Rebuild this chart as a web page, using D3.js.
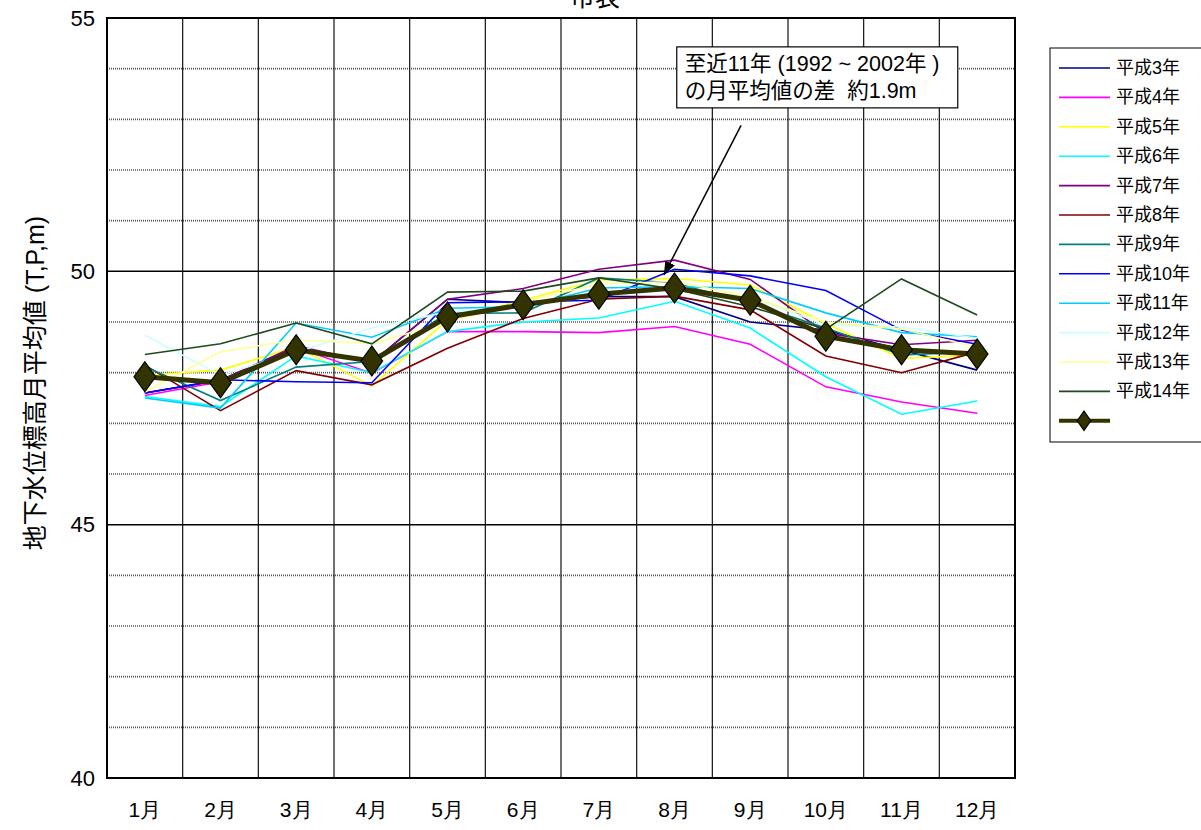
<!DOCTYPE html>
<html><head><meta charset="utf-8">
<script src="https://cdn.jsdelivr.net/npm/d3@7/dist/d3.min.js"></script>
<style>body{margin:0;background:#fff}svg{display:block;font-family:"Liberation Sans",Arial,"Noto Sans CJK JP",sans-serif}</style>
</head><body><svg id="c" width="1201" height="830"></svg>
<script>
const months = ["1月","2月","3月","4月","5月","6月","7月","8月","9月","10月","11月","12月"];
const seriesNames = ["平成3年","平成4年","平成5年","平成6年","平成7年","平成8年","平成9年","平成10年","平成11年","平成12年","平成13年","平成14年"];
const seriesColors = ["#000080","#ff00ff","#ffff00","#00ffff","#800080","#800000","#008080","#0000ff","#00ccff","#ccffff","#ffff99","#1f4a1f"];
const h3  = [47.60,47.85,48.50,48.20,49.45,49.38,49.50,49.50,49.00,48.84,48.45,48.05];
const h4  = [47.55,47.82,48.49,47.99,48.81,48.81,48.79,48.91,48.56,47.72,47.42,47.20];
const h5  = [47.95,48.05,48.51,47.74,49.04,49.43,49.83,49.86,49.73,48.97,48.28,48.35];
const h6  = [47.53,47.33,48.33,48.00,48.81,49.00,49.08,49.41,48.88,47.92,47.18,47.44];
const h7  = [47.60,47.85,48.53,48.20,49.45,49.66,50.04,50.22,49.84,48.78,48.55,48.64];
const h8  = [48.15,47.25,48.04,47.76,48.48,49.07,49.45,49.51,49.24,48.33,48.00,48.41];
const h9  = [48.12,47.45,48.11,48.22,49.17,49.18,49.87,49.77,49.37,48.88,48.35,48.41];
const h10 = [47.60,47.86,47.82,47.80,49.38,49.40,49.43,50.04,49.91,49.62,48.84,48.56];
const h11 = [47.50,47.30,48.98,48.70,49.27,49.30,49.67,49.70,49.66,49.18,48.79,48.71];
const h12 = [48.74,47.95,48.40,48.88,49.20,49.30,49.60,49.65,49.50,48.94,48.90,48.68];
const h13 = [47.62,48.41,48.65,48.57,49.00,49.40,49.75,49.80,49.50,49.00,48.86,48.50];
const h14 = [48.36,48.57,48.98,48.57,49.59,49.61,49.87,49.65,49.30,48.86,49.85,49.14];
const average = [47.92,47.80,48.45,48.23,49.10,49.34,49.55,49.67,49.43,48.72,48.45,48.37];
const yTicks = [40,45,50,55];
const minorTicks = [41,42,43,44,46,47,48,49,51,52,53,54];
const noteLines = ["至近11年 (1992 ~ 2002年 )","の月平均値の差  約1.9m"];
const titleText = "市表";
const yTitle = "地下水位標高月平均値 (T,P,m)";

const allSeries = [h3,h4,h5,h6,h7,h8,h9,h10,h11,h12,h13,h14];
const svg = d3.select("#c");
const L=107,R=1015,T=18,B=778;
const x = d3.scaleBand().domain(months).range([L,R]);
const y = d3.scaleLinear().domain([40,55]).range([B,T]);
const cx = m => x(m)+x.bandwidth()/2;

// title (cut off at top, as in the reference)
svg.append("text").attr("x",595).attr("y",6).attr("text-anchor","middle").attr("font-size",25).text(titleText);

// minor gridlines
svg.append("g").selectAll("line").data(minorTicks).join("line")
  .attr("x1",L).attr("x2",R).attr("y1",d=>y(d)).attr("y2",d=>y(d))
  .attr("stroke","#555").attr("stroke-width",1.6).attr("stroke-dasharray","1,1");
// major gridlines
svg.append("g").selectAll("line").data(yTicks).join("line")
  .attr("x1",L).attr("x2",R).attr("y1",d=>y(d)).attr("y2",d=>y(d))
  .attr("stroke","#000").attr("stroke-width",1.5);
// vertical gridlines
svg.append("g").selectAll("line").data(months.slice(1)).join("line")
  .attr("x1",d=>x(d)).attr("x2",d=>x(d)).attr("y1",T).attr("y2",B)
  .attr("stroke","#111").attr("stroke-width",1.2);
// frame
svg.append("rect").attr("x",L).attr("y",T).attr("width",R-L).attr("height",B-T)
  .attr("fill","none").attr("stroke","#000").attr("stroke-width",2);

// axes labels
const yAxis = d3.axisLeft(y).tickValues(yTicks).tickSize(0).tickPadding(12);
const gy = svg.append("g").attr("transform",`translate(${L},0)`).call(yAxis);
gy.select(".domain").remove();
gy.selectAll("text").attr("font-size",22).attr("font-family","Liberation Sans, Arial").attr("fill","#000");
const xAxis = d3.axisBottom(x).tickSize(0).tickPadding(24);
const gx = svg.append("g").attr("transform",`translate(0,${B})`).call(xAxis);
gx.select(".domain").remove();
gx.selectAll("text").attr("font-size",21).attr("fill","#000");

svg.append("text").attr("transform","translate(44,383) rotate(-90)").attr("text-anchor","middle")
  .attr("font-size",25).attr("xml:space","preserve").text(yTitle);

// series lines
const line = d3.line().x((d,i)=>cx(months[i])).y(d=>y(d));
allSeries.forEach((s,i)=>{
  svg.append("path").datum(s).attr("d",line).attr("fill","none")
    .attr("stroke",seriesColors[i]).attr("stroke-width",1.6);
});
// average
svg.append("path").datum(average).attr("d",line).attr("fill","none")
  .attr("stroke","#333300").attr("stroke-width",5).attr("stroke-linejoin","round");
const diamond = d3.symbol().type(d3.symbolDiamond).size(260);
svg.append("g").selectAll("path").data(average).join("path")
  .attr("transform",(d,i)=>`translate(${cx(months[i])},${y(d)}) scale(1.25,1)`)
  .attr("d",diamond).attr("fill","#333300").attr("stroke","#000").attr("stroke-width",1);

// annotation
const defs = svg.append("defs");
defs.append("marker").attr("id","ah").attr("viewBox","0 0 10 10").attr("refX",10).attr("refY",5)
  .attr("markerWidth",9).attr("markerHeight",9).attr("orient","auto-start-reverse")
  .append("path").attr("d","M0,1 L10,5 L0,9 Z").attr("fill","#000");
const ax0 = x("8月")+x.bandwidth()*0.36, ay0 = y(49.93);
const ax1 = x("9月")+x.bandwidth()*0.38, ay1 = y(52.88);
svg.append("line").attr("x1",ax1).attr("y1",ay1).attr("x2",ax0).attr("y2",ay0)
  .attr("stroke","#000").attr("stroke-width",1.5).attr("marker-end","url(#ah)");
const bx = x("8月")+x.bandwidth()*0.53, by = y(54.43);
svg.append("rect").attr("x",bx).attr("y",by).attr("width",281).attr("height",61)
  .attr("fill","#fff").attr("stroke","#000").attr("stroke-width",1.2);
noteLines.forEach((t,i)=>{
  svg.append("text").attr("x",bx+8).attr("y",by+24+i*27).attr("font-size",21.5)
    .attr("xml:space","preserve").style("white-space","pre").text(t);
});

// legend
const lg = svg.append("g");
lg.append("rect").attr("x",1050).attr("y",48).attr("width",170).attr("height",394)
  .attr("fill","#fff").attr("stroke","#000").attr("stroke-width",1);
seriesNames.forEach((n,i)=>{
  const yy = 68+i*29.4;
  lg.append("line").attr("x1",1059).attr("x2",1110).attr("y1",yy).attr("y2",yy)
    .attr("stroke",seriesColors[i]).attr("stroke-width",1.6);
  lg.append("text").attr("x",1116).attr("y",yy+6).attr("font-size",18).text(n);
});
const ly = 68+12*29.4;
lg.append("line").attr("x1",1059).attr("x2",1110).attr("y1",ly).attr("y2",ly)
  .attr("stroke","#333300").attr("stroke-width",4);
lg.append("path").attr("transform",`translate(1084,${ly}) scale(1.2,1)`).attr("d",d3.symbol().type(d3.symbolDiamond).size(110))
  .attr("fill","#333300").attr("stroke","#000");
</script></body></html>
